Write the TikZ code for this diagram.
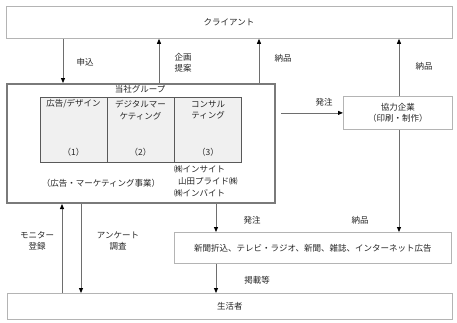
\documentclass[tikz,border=0pt]{standalone}
\usepackage{fontspec}
\setmainfont{Noto Sans CJK JP}
\usetikzlibrary{arrows.meta}
\definecolor{boxline}{HTML}{B4B4B4}
\definecolor{grpline}{HTML}{7A7A7A}
\definecolor{arrline}{HTML}{6E6E6E}
\definecolor{innerfill}{HTML}{F0F0F0}
\definecolor{txt}{HTML}{262626}
\tikzset{
  plainbox/.style={draw=boxline, line width=0.8pt, fill=white, anchor=north west, inner sep=0pt, font=\fontsize{8.5}{11}\selectfont, text=txt},
  grpbox/.style={draw=grpline, line width=2pt, anchor=north west, inner sep=0pt},
  innerbox/.style={draw=black!65, line width=0.7pt, fill=innerfill, anchor=north west, inner sep=0pt, minimum width=67pt, minimum height=65pt},
  lbl/.style={font=\fontsize{8.5}{11.5}\selectfont, text=txt, align=center, inner sep=0pt},
  arr/.style={draw=arrline, line width=0.8pt, -{Triangle[length=5pt,width=4pt,color=black]}},
}
\begin{document}
\begin{tikzpicture}[x=1pt,y=-1pt]
\useasboundingbox (0,0) rectangle (457,322);
% boxes
\node[plainbox, minimum width=446pt, minimum height=32pt] (client) at (6,6) {};
\node[lbl] (clienttxt) at (229,22) {クライアント};
\node[grpbox, minimum width=268pt, minimum height=119pt] (group) at (6,83) {};
\node[lbl] (grptitle) at (140,89.5) {当社グループ};
\node[innerbox] (b1) at (40,97) {};
\node[innerbox] (b2) at (107,97) {};
\node[innerbox] (b3) at (174,97) {};
\node[lbl] (b1t) at (73.5,103.5) {広告/デザイン};
\node[lbl, text width=67pt] (b2t) at (140.5,110) {デジタルマー\\ケティング};
\node[lbl, text width=67pt] (b3t) at (208,110) {コンサル\\ティング};
\node[lbl] (n1) at (73.5,152.5) {（1）};
\node[lbl] (n2) at (140.5,152.5) {（2）};
\node[lbl] (n3) at (208,152.5) {（3）};
\node[lbl] (biz) at (101,183) {（広告・マーケティング事業）};
\node[lbl, anchor=west] (co1) at (174,169.5) {㈱インサイト};
\node[lbl, anchor=west] (co2) at (178,181.5) {山田プライド㈱};
\node[lbl, anchor=west] (co3) at (174,193.5) {㈱インバイト};
\node[plainbox, minimum width=109pt, minimum height=33pt, align=center] (kyo) at (343,96) {協力企業\\（印刷・制作）};
\node[plainbox, minimum width=277pt, minimum height=31pt] (news) at (174,232) {新聞折込、テレビ・ラジオ、新聞、雑誌、インターネット広告};
\node[plainbox, minimum width=445pt, minimum height=26pt] (life) at (7,293) {生活者};
% x positions
\coordinate (x63) at (63,0);
\coordinate (x159) at (159,0);
\coordinate (x259) at (259,0);
\coordinate (x399) at (399,0);
\coordinate (x216) at (216,0);
\coordinate (x62) at (62,0);
\coordinate (x81) at (81,0);
% arrows
\draw[arr] (client.south -| x63) -- (group.north -| x63);
\draw[arr] (group.north -| x159) -- (client.south -| x159);
\draw[arr] (group.north -| x259) -- (client.south -| x259);
\draw[arr] (kyo.north -| x399) -- (client.south -| x399);
\draw[arr, shorten <=5pt] (group.east |- kyo.west) -- (kyo.west);
\draw[arr] (kyo.south -| x399) -- (news.north -| x399);
\draw[arr] (group.south -| x216) -- (news.north -| x216);
\draw[arr] (news.south -| x216) -- (life.north -| x216);
\draw[arr] (life.north -| x62) -- (group.south -| x62);
\draw[arr] (group.south -| x81) -- (life.north -| x81);
% labels
\node[lbl] (l1) at (85,62) {申込};
\node[lbl] (l2) at (183,63) {企画\\提案};
\node[lbl] (l3) at (283,58) {納品};
\node[lbl] (l4) at (424,66) {納品};
\node[lbl] (l5) at (324,102.5) {発注};
\node[lbl] (l6) at (252,220) {発注};
\node[lbl] (l7) at (360,220) {納品};
\node[lbl] (l8) at (257,280) {掲載等};
\node[lbl] (l9) at (37,241) {モニター\\登録};
\node[lbl] (l10) at (118,241) {アンケート\\調査};
\end{tikzpicture}
\end{document}
